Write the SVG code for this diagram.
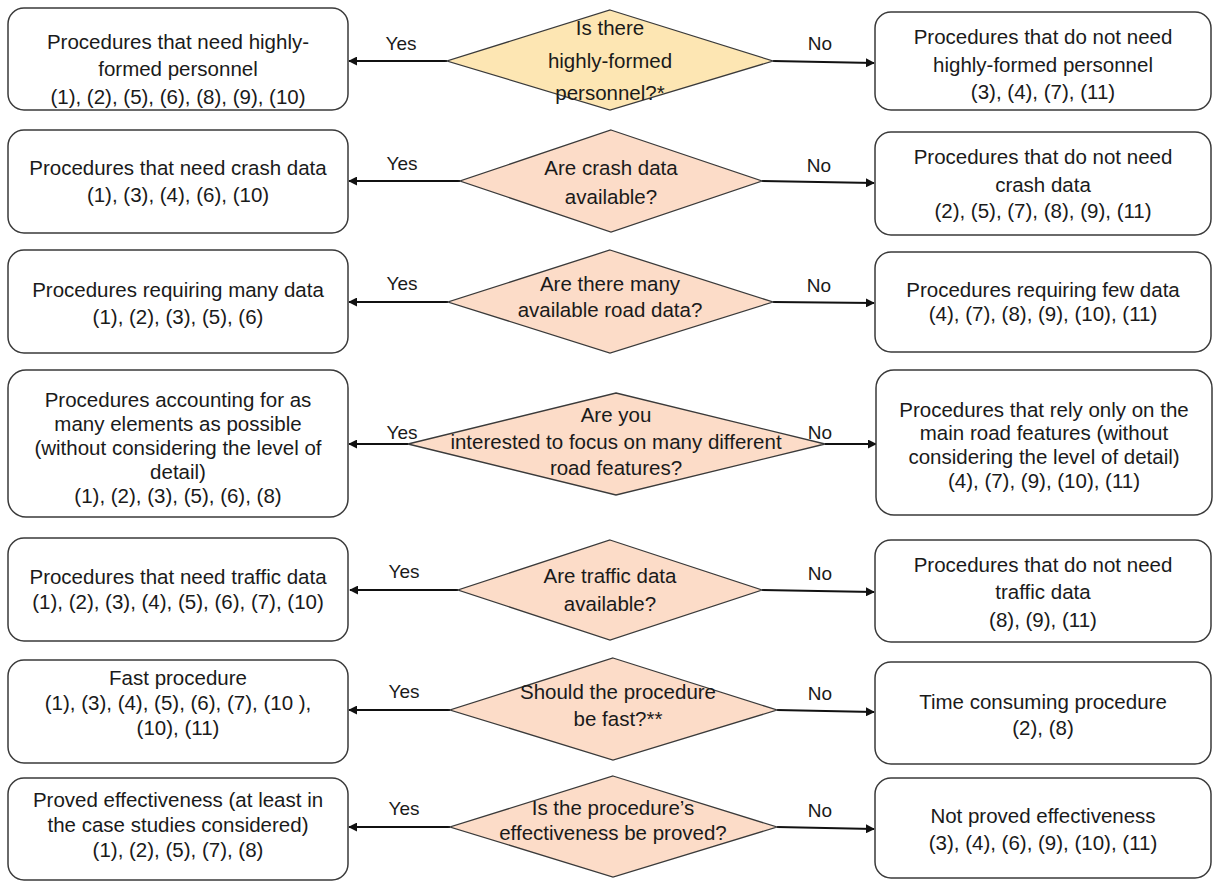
<svg xmlns="http://www.w3.org/2000/svg" width="1216" height="882" viewBox="0 0 1216 882">
<style>
.box{fill:#fff;stroke:#3a3a3a;stroke-width:1.5}
.dy{fill:#fde6b3;stroke:#3a3a3a;stroke-width:1.3}
.dp{fill:#fcdcc8;stroke:#3a3a3a;stroke-width:1.3}
text{font-family:"Liberation Sans",Arial,sans-serif;font-size:20.5px;fill:#1a1a1a;text-anchor:middle}
.lbl{font-size:19px}
.c{stroke:#111;stroke-width:2;fill:none;marker-end:url(#ah)}
</style>
<defs>
<marker id="ah" viewBox="0 0 10 10" refX="9" refY="5" markerWidth="4.5" markerHeight="4.5" orient="auto" markerUnits="strokeWidth">
<path d="M0,0 L10,5 L0,10 z" fill="#111"/>
</marker>
</defs>
<rect width="1216" height="882" fill="#fff"/>
<g id="connectors">
<line class="c" x1="447" y1="61" x2="349" y2="61"/>
<line class="c" x1="773" y1="61" x2="874" y2="63"/>
<line class="c" x1="460" y1="181" x2="349" y2="181"/>
<line class="c" x1="762" y1="181" x2="874" y2="183"/>
<line class="c" x1="448" y1="302" x2="349" y2="302"/>
<line class="c" x1="773" y1="302" x2="874" y2="303"/>
<line class="c" x1="408" y1="444" x2="349" y2="444"/>
<line class="c" x1="825" y1="444" x2="876" y2="444"/>
<line class="c" x1="458" y1="590" x2="350" y2="590"/>
<line class="c" x1="762" y1="590" x2="874" y2="592"/>
<line class="c" x1="450" y1="710" x2="349" y2="710"/>
<line class="c" x1="777" y1="710" x2="874" y2="712"/>
<line class="c" x1="450" y1="827" x2="349" y2="827"/>
<line class="c" x1="777" y1="827" x2="874" y2="829"/>
<text class="lbl" x="401" y="50">Yes</text>
<text class="lbl" x="820" y="50">No</text>
<text class="lbl" x="402" y="170">Yes</text>
<text class="lbl" x="819" y="172">No</text>
<text class="lbl" x="402" y="290">Yes</text>
<text class="lbl" x="819" y="292">No</text>
<text class="lbl" x="402" y="439">Yes</text>
<text class="lbl" x="820" y="439">No</text>
<text class="lbl" x="404" y="578">Yes</text>
<text class="lbl" x="820" y="580">No</text>
<text class="lbl" x="404" y="698">Yes</text>
<text class="lbl" x="820" y="700">No</text>
<text class="lbl" x="404" y="815">Yes</text>
<text class="lbl" x="820" y="817">No</text>
</g>
<g id="d1"><polygon class="dy" points="610,10 773,61 610,110 447,61"/>
<text x="610" y="35">Is there</text><text x="610" y="68">highly-formed</text><text x="610" y="100">personnel?*</text></g>
<g id="l1"><rect class="box" x="8" y="8" width="340" height="102" rx="16"/>
<text x="178" y="49">Procedures that need highly-</text><text x="178" y="76">formed personnel</text><text x="178" y="104">(1), (2), (5), (6), (8), (9), (10)</text></g>
<g id="r1"><rect class="box" x="875" y="12" width="336" height="98" rx="16"/>
<text x="1043" y="44">Procedures that do not need</text><text x="1043" y="72">highly-formed personnel</text><text x="1043" y="99">(3), (4), (7), (11)</text></g>

<g id="d2"><polygon class="dp" points="611,130 762,181 611,232 460,181"/>
<text x="611" y="175">Are crash data</text><text x="611" y="204">available?</text></g>
<g id="l2"><rect class="box" x="8" y="130" width="340" height="103" rx="16"/>
<text x="178" y="175">Procedures that need crash data</text><text x="178" y="202">(1), (3), (4), (6), (10)</text></g>
<g id="r2"><rect class="box" x="875" y="132" width="336" height="103" rx="16"/>
<text x="1043" y="164">Procedures that do not need</text><text x="1043" y="192">crash data</text><text x="1043" y="218">(2), (5), (7), (8), (9), (11)</text></g>

<g id="d3"><polygon class="dp" points="610,250 773,302 610,353 448,302"/>
<text x="610" y="291">Are there many</text><text x="610" y="317">available road data?</text></g>
<g id="l3"><rect class="box" x="8" y="250" width="340" height="103" rx="16"/>
<text x="178" y="297">Procedures requiring many data</text><text x="178" y="324">(1), (2), (3), (5), (6)</text></g>
<g id="r3"><rect class="box" x="875" y="252" width="336" height="100" rx="16"/>
<text x="1043" y="297">Procedures requiring few data</text><text x="1043" y="321">(4), (7), (8), (9), (10), (11)</text></g>

<g id="d4"><polygon class="dp" points="616,393 825,444 616,495 408,444"/>
<text x="616" y="422">Are you</text><text x="616" y="449">interested to focus on many different</text><text x="616" y="475">road features?</text></g>
<g id="l4"><rect class="box" x="8" y="370" width="340" height="147" rx="18"/>
<text x="178" y="407">Procedures accounting for as</text><text x="178" y="431">many elements as possible</text><text x="178" y="455">(without considering the level of</text><text x="178" y="479">detail)</text><text x="178" y="503">(1), (2), (3), (5), (6), (8)</text></g>
<g id="r4"><rect class="box" x="876" y="370" width="336" height="145" rx="18"/>
<text x="1044" y="417">Procedures that rely only on the</text><text x="1044" y="440">main road features (without</text><text x="1044" y="464">considering the level of detail)</text><text x="1044" y="488">(4), (7), (9), (10), (11)</text></g>

<g id="d5"><polygon class="dp" points="610,540 762,590 610,640 458,590"/>
<text x="610" y="583">Are traffic data</text><text x="610" y="611">available?</text></g>
<g id="l5"><rect class="box" x="8" y="538" width="340" height="103" rx="16"/>
<text x="178" y="584">Procedures that need traffic data</text><text x="178" y="609">(1), (2), (3), (4), (5), (6), (7), (10)</text></g>
<g id="r5"><rect class="box" x="875" y="540" width="336" height="102" rx="16"/>
<text x="1043" y="572">Procedures that do not need</text><text x="1043" y="599">traffic data</text><text x="1043" y="627">(8), (9), (11)</text></g>

<g id="d6"><polygon class="dp" points="613,658 777,710 613,760 450,710"/>
<text x="618" y="699">Should the procedure</text><text x="618" y="726">be fast?**</text></g>
<g id="l6"><rect class="box" x="8" y="660" width="340" height="103" rx="16"/>
<text x="178" y="685">Fast procedure</text><text x="178" y="710">(1), (3), (4), (5), (6), (7), (10 ),</text><text x="178" y="735">(10), (11)</text></g>
<g id="r6"><rect class="box" x="875" y="662" width="336" height="102" rx="16"/>
<text x="1043" y="709">Time consuming procedure</text><text x="1043" y="735">(2), (8)</text></g>

<g id="d7"><polygon class="dp" points="613,776 777,827 613,877 450,827"/>
<text x="613" y="815">Is the procedure’s</text><text x="613" y="840">effectiveness be proved?</text></g>
<g id="l7"><rect class="box" x="8" y="778" width="340" height="102" rx="16"/>
<text x="178" y="807">Proved effectiveness (at least in</text><text x="178" y="832">the case studies considered)</text><text x="178" y="857">(1), (2), (5), (7), (8)</text></g>
<g id="r7"><rect class="box" x="875" y="778" width="336" height="100" rx="16"/>
<text x="1043" y="823">Not proved effectiveness</text><text x="1043" y="850">(3), (4), (6), (9), (10), (11)</text></g>
</svg>
